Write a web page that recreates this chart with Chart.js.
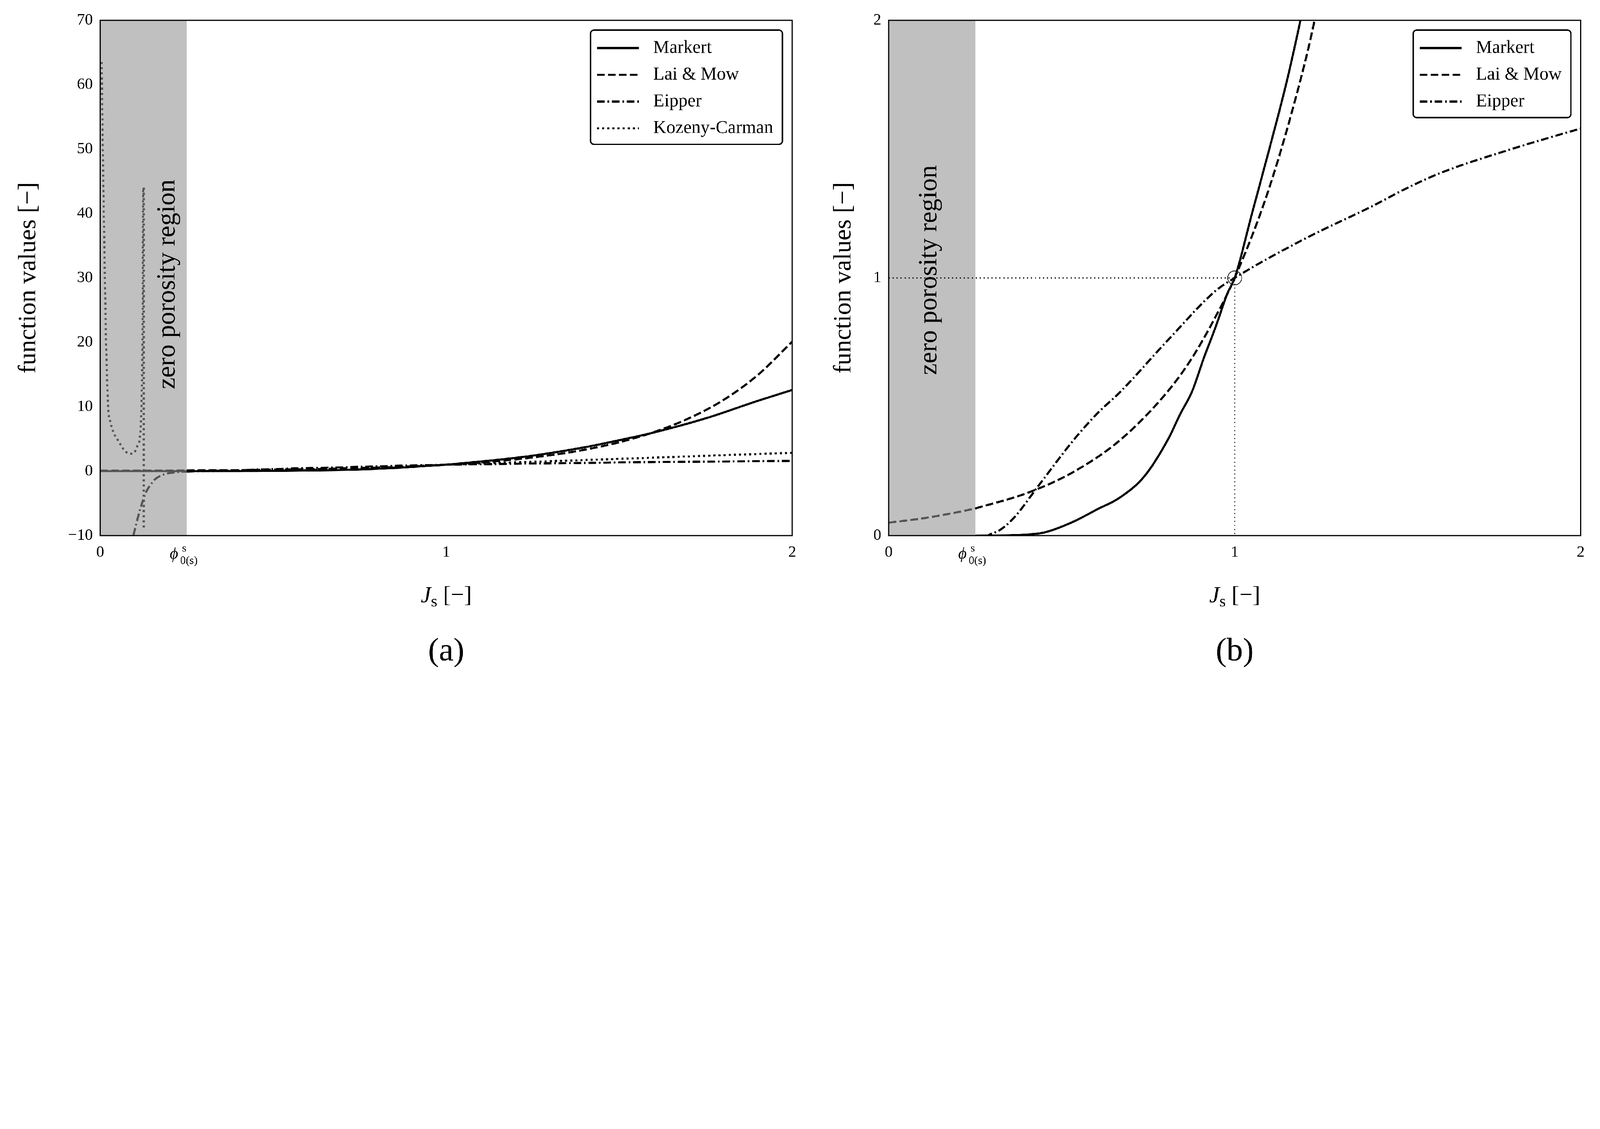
<!DOCTYPE html>
<html><head><meta charset="utf-8">
<script src="https://cdn.jsdelivr.net/npm/chart.js@4/dist/chart.umd.min.js"></script>
<style>
html,body{margin:0;padding:0;background:#fff;overflow:hidden;}
#wrap{position:absolute;left:0;top:0;width:6881px;height:2890px;transform-origin:0 0;}
canvas{position:absolute;top:0;}
</style></head><body>
<div id="wrap"><canvas id="ca" style="left:0"></canvas><canvas id="cb" style="left:3440px"></canvas></div>
<script>
// ---- data ----
const phi0 = 0.25;
const markGreyX = [0, 0.25];
const markGreyY = [0, 0];
const markX = [0.25,0.35,0.4,0.45,0.534,0.6,0.671,0.739,0.808,0.842,0.877,0.911,0.945,0.979,1,1.05,1.1,1.15,1.19,1.25,1.4,1.5,1.6,1.75,1.9,2];
const markY = [0,0.001,0.004,0.012,0.054,0.1,0.15,0.23,0.375,0.47,0.56,0.69,0.81,0.94,1,1.25,1.5,1.76,2.0,2.4,3.7,4.8,6.0,8.2,10.9,12.6];
const laiGreyX = [0,0.1,0.2,0.25];
const laiGreyY = [0.05,0.067,0.091,0.105];
const laiX = [0.25,0.4,0.534,0.671,0.808,0.877,0.945,1,1.1,1.2,1.231,1.3,1.4,1.5,1.6,1.7,1.8,1.9,2];
const laiY = [0.105,0.165,0.247,0.373,0.562,0.69,0.85,1,1.35,1.82,2.0,2.46,3.32,4.48,6.05,8.17,11.0,14.9,20.1];
const eipGreyX = [0.096,0.105,0.115,0.125,0.135,0.15,0.16,0.18,0.2,0.25];
const eipGreyY = [-10,-8,-6,-4.3,-3,-1.8,-1.2,-0.6,-0.3,-0.05];
const eipX = [0.25,0.287,0.32,0.362,0.431,0.534,0.6,0.671,0.808,0.945,1,1.2,1.4,1.5,1.6,1.8,2];
const eipY = [-0.05,0,0.02,0.069,0.19,0.37,0.47,0.56,0.76,0.95,1,1.15,1.28,1.35,1.41,1.5,1.58];
const kcGreyX = [0.004,0.008,0.012,0.017,0.023,0.03,0.04,0.049,0.06,0.07,0.08,0.09,0.1,0.108,0.115,0.12,0.122,0.124];
const kcGreyY = [63.5,48,35,20,10,7.5,5.8,5,4,3.2,2.8,2.7,3,4,5.5,12,20,44];
const kcJumpX = [0.126,0.126];
const kcJumpY = [44,-9];
const kcX = [0.25,0.4,0.6,0.8,1,1.25,1.5,1.75,2];
const kcY = [0,0.03,0.18,0.5,1,1.45,1.9,2.38,2.85];
const refX = [0,1,1];
const refY = [1,1,0];
const yTicksA = [-10,0,10,20,30,40,50,60,70];
const yTicksB = [0,1,2];
const xTicks = [0,0.25,1,2];

(function fit(){
  const s=Math.min(window.innerWidth/6881, window.innerHeight/2890);
  document.getElementById('wrap').style.transform='scale('+s+')';
})();

const pts = (xs,ys)=>xs.map((x,i)=>({x:x,y:ys[i]}));
const SERIF = '"Liberation Serif","DejaVu Serif",serif';
const GREY = '#555555';
const LW = 9;
const DASH = {solid:[], dashed:[33,14], dashdot:[33,12,7,12], dotted:[9,13]};

function ds(xs,ys,color,dash,mono=true){
  return {data:pts(xs,ys),borderColor:color,borderWidth:LW,borderDash:dash,pointRadius:0,
    fill:false,cubicInterpolationMode:mono?'monotone':'default',tension:0};
}

function makeChart(id,padRight,yMin,yMax,yTicks,titleX,legendItems,label,zeroTextY,leftW){
  const cv=document.getElementById(id);
  const deco={
    id:'deco',
    beforeDatasetsDraw(c){
      const {ctx,chartArea:a,scales:{x,y}}=c;
      ctx.save();
      ctx.fillStyle='#c0c0c0';
      ctx.fillRect(a.left,a.top,x.getPixelForValue(phi0)-a.left,a.bottom-a.top);
      ctx.translate(x.getPixelForValue(id==='ca'?0.195:0.118),y.getPixelForValue(zeroTextY));
      ctx.rotate(-Math.PI/2);
      ctx.fillStyle='#000';ctx.font='112px '+SERIF;ctx.textAlign='center';ctx.textBaseline='middle';
      ctx.fillText('zero porosity region',0,0);
      ctx.restore();
    },
    afterDraw(c){
      const {ctx,chartArea:a,scales:{x,y}}=c;
      ctx.save();
      ctx.strokeStyle='#000';ctx.lineWidth=5;
      ctx.strokeRect(a.left,a.top,a.right-a.left,a.bottom-a.top);
      ctx.fillStyle='#000';ctx.textBaseline='alphabetic';ctx.textAlign='left';
      const px=x.getPixelForValue(phi0);
      ctx.font='italic 70px '+SERIF;
      const pw=ctx.measureText('\u03D5').width;
      ctx.fillText('\u03D5',px-55-pw/2,2402);
      ctx.font='48px '+SERIF;
      ctx.fillText('s',px-20,2372);
      ctx.fillText('0(s)',px-28,2425);
      const cx=(a.left+a.right)/2;
      ctx.font='italic 100px '+SERIF;
      const jw=ctx.measureText('J').width;
      ctx.font='70px '+SERIF;const sw=ctx.measureText('s').width;
      ctx.font='100px '+SERIF;const bw=ctx.measureText(' [\u2212]').width;
      let sx=cx-(jw+sw+bw)/2;
      ctx.font='italic 100px '+SERIF;ctx.fillText('J',sx,2590);sx+=jw;
      ctx.font='70px '+SERIF;ctx.fillText('s',sx,2608);sx+=sw;
      ctx.font='100px '+SERIF;ctx.fillText(' [\u2212]',sx,2590);
      ctx.textAlign='center';ctx.font='140px '+SERIF;
      ctx.fillText(label,cx,2840);
      ctx.save();ctx.translate(titleX,(a.top+a.bottom)/2);ctx.rotate(-Math.PI/2);
      ctx.font='108px '+SERIF;ctx.textBaseline='middle';ctx.fillText('function values [\u2212]',0,0);
      ctx.restore();
      ctx.font='78px '+SERIF;ctx.textAlign='left';ctx.textBaseline='middle';
      let tw=0;for(const it of legendItems)tw=Math.max(tw,ctx.measureText(it.t).width);
      const bwid=28+180+62+tw+40, rowH=115, bh=rowH*legendItems.length+32;
      const bx=a.right-42-bwid, by=a.top+42;
      ctx.lineWidth=6;ctx.fillStyle='#fff';
      ctx.beginPath();ctx.roundRect(bx,by,bwid,bh,16);ctx.fill();ctx.stroke();
      legendItems.forEach((it,i)=>{
        const yy=by+16+rowH*i+rowH/2+4;
        ctx.setLineDash(it.d);ctx.lineWidth=LW;ctx.strokeStyle='#000';
        ctx.beginPath();ctx.moveTo(bx+28,yy);ctx.lineTo(bx+208,yy);ctx.stroke();
        ctx.setLineDash([]);ctx.fillStyle='#000';ctx.fillText(it.t,bx+270,yy);
      });
      ctx.restore();
    }
  };
  return {cv,deco,yMin,yMax,yTicks,padRight,leftW};
}

function build(spec,datasets){
  const {cv,deco,yMin,yMax,yTicks,padRight,leftW}=spec;
  return new Chart(cv,{type:'line',data:{datasets},
    options:{responsive:false,animation:false,devicePixelRatio:1,
      layout:{padding:{top:87,right:padRight,left:0,bottom:0}},
      plugins:{legend:{display:false},tooltip:{enabled:false}},
      scales:{
        x:{type:'linear',min:0,max:2,grid:{display:false,drawTicks:true,tickLength:18,tickWidth:5,color:'#000'},border:{display:false},
          afterBuildTicks:s=>{s.ticks=xTicks.map(v=>({value:v}));},
          afterFit:s=>{s.height=2890-2303;},
          ticks:{font:{family:SERIF,size:68},color:'#000',padding:14,maxRotation:0,autoSkip:false,callback:v=>v===0.25?'':String(v)}},
        y:{type:'linear',min:yMin,max:yMax,grid:{display:false,drawTicks:true,tickLength:18,tickWidth:5,color:'#000'},border:{display:false},
          afterBuildTicks:s=>{s.ticks=yTicks.map(v=>({value:v}));},
          afterFit:s=>{s.width=leftW;},
          ticks:{font:{family:SERIF,size:68},color:'#000',padding:14,autoSkip:false,callback:v=>v<0?'\u2212'+Math.abs(v):String(v)}}
      }},
    plugins:[deco]});
}

const A=document.getElementById('ca');A.width=3440;A.height=2890;
const B=document.getElementById('cb');B.width=3441;B.height=2890;

const specA=makeChart('ca',33,-10,70,yTicksA,124,
  [{t:'Markert',d:DASH.solid},{t:'Lai & Mow',d:DASH.dashed},{t:'Eipper',d:DASH.dashdot},{t:'Kozeny-Carman',d:DASH.dotted}],'(a)',29,431);
build(specA,[
  ds(markGreyX,markGreyY,GREY,DASH.solid),
  ds(laiGreyX,laiGreyY,GREY,DASH.dashed),
  ds(eipGreyX,eipGreyY,GREY,DASH.dashdot),
  ds(kcGreyX,kcGreyY,GREY,DASH.dotted),
  ds(kcJumpX,kcJumpY,GREY,DASH.dotted,false),
  ds(kcX,kcY,'#000',DASH.dotted),
  ds(eipX,eipY,'#000',DASH.dashdot),
  ds(laiX,laiY,'#000',DASH.dashed),
  ds(markX,markY,'#000',DASH.solid)
]);

const specB=makeChart('cb',83,0,2,yTicksB,190,
  [{t:'Markert',d:DASH.solid},{t:'Lai & Mow',d:DASH.dashed},{t:'Eipper',d:DASH.dashdot}],'(b)',1.03,382);
const refDs=ds(refX,refY,'#000',[5,12],false);refDs.borderWidth=4;
build(specB,[
  refDs,
  ds(laiGreyX,laiGreyY,GREY,DASH.dashed),
  ds(eipX,eipY,'#000',DASH.dashdot),
  ds(laiX,laiY,'#000',DASH.dashed),
  ds(markX,markY,'#000',DASH.solid),
  {data:[{x:1,y:1}],showLine:false,pointRadius:30,pointBackgroundColor:'#fff',pointBorderColor:'#000',pointBorderWidth:3,clip:false}
]);
</script></body></html>
